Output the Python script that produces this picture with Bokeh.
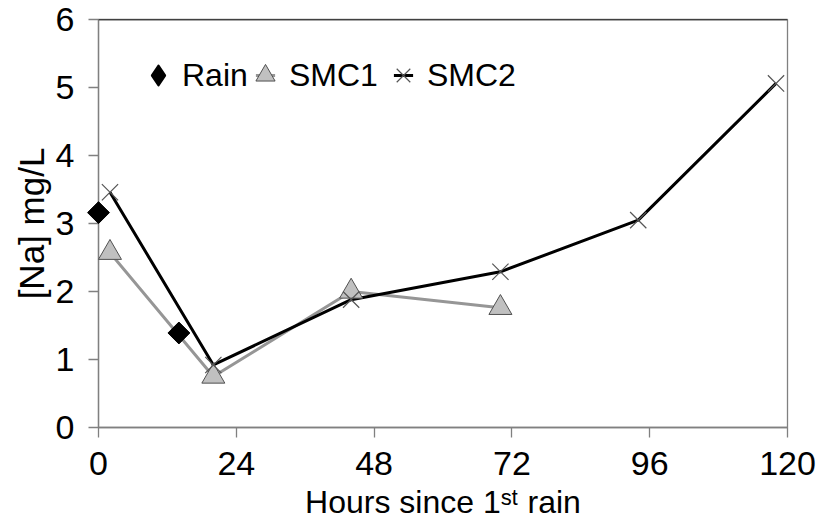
from bokeh.plotting import figure
from bokeh.models import Range1d, FixedTicker, Legend, LegendItem, Span
from bokeh.embed import file_html
from bokeh.resources import INLINE
import numpy as np

# ---- data ----
rain_hours = [0, 14]
rain_na = [3.16, 1.39]

smc1_hours = [2, 20, 44, 70]
smc1_na = [2.57, 0.75, 2.0, 1.76]

smc2_hours = [2, 20, 44, 70, 94, 118]
smc2_na = [3.46, 0.92, 1.88, 2.29, 3.05, 5.06]

x_ticks = [0, 24, 48, 72, 96, 120]
y_ticks = [0, 1, 2, 3, 4, 5, 6]

FONT = "Liberation Sans"

p = figure(width=820, height=523, output_backend="svg", toolbar_location=None,
           x_range=Range1d(0, 120), y_range=Range1d(0, 6),
           min_border_left=98, min_border_right=33, min_border_top=19, min_border_bottom=96)
p.background_fill_color = "white"
p.border_fill_color = "white"
p.grid.visible = False
p.outline_line_color = "#808080"
p.outline_line_width = 1.3

# top border in black
p.add_layout(Span(location=6, dimension="width", line_color="black", line_width=1.5))

for ax in (p.xaxis[0], p.yaxis[0]):
    ax.axis_line_color = "#808080"
    ax.axis_line_width = 1.3
    ax.major_tick_line_color = "#808080"
    ax.major_tick_line_width = 1.3
    ax.major_tick_out = 10
    ax.major_tick_in = 0
    ax.minor_tick_line_color = None
    ax.major_label_text_font = FONT
    ax.major_label_text_font_size = "34px"
    ax.major_label_text_color = "black"
    ax.axis_label_text_font = FONT
    ax.axis_label_text_font_size = "32px"
    ax.axis_label_text_font_style = "normal"
    ax.axis_label_text_color = "black"

p.xaxis[0].ticker = FixedTicker(ticks=x_ticks)
p.yaxis[0].ticker = FixedTicker(ticks=y_ticks)
p.xaxis[0].axis_label = "Hours since 1ˢᵗ rain"
p.yaxis[0].axis_label = "[Na] mg/L"
p.yaxis[0].axis_label_text_font_size = "35px"
p.xaxis[0].major_label_standoff = 14
p.xaxis[0].axis_label_standoff = 6
p.yaxis[0].major_label_standoff = 14
p.yaxis[0].axis_label_standoff = 2

# SMC1
l1 = p.line(smc1_hours, smc1_na, line_color="#969696", line_width=3)
m1 = p.scatter(smc1_hours, smc1_na, marker="triangle", size=23, level="overlay",
               fill_color="#c0c0c0", line_color="#505050", line_width=1)
# SMC2
l2 = p.line(smc2_hours, smc2_na, line_color="black", line_width=3)
m2 = p.scatter(smc2_hours, smc2_na, marker="x", size=23, level="overlay",
               line_color="#555555", line_width=1.2)
# Rain (plotted as a 45°-rotated square)
m0 = p.scatter(rain_hours, rain_na, marker="square", angle=np.pi / 4, size=15.5,
               level="overlay", fill_color="black", line_color="black")

# legend proxies (same data, not drawn in the plot): short line segments + diamond
m0_leg = p.scatter(rain_hours, rain_na, marker="diamond", visible=False,
                   fill_color="black", line_color="black", line_width=2.5,
                   line_join="round")
d1_leg = p.scatter(smc1_hours, smc1_na, marker="dash", visible=False,
                   line_color="#969696", line_width=3)
d2_leg = p.scatter(smc2_hours, smc2_na, marker="dash", visible=False,
                   line_color="black", line_width=3)

legend_entries = [
    ("Rain", [m0_leg], 36),
    ("SMC1", [d1_leg, m1], 143),
    ("SMC2", [d2_leg, m2], 281),
]
for label, rends, x_off in legend_entries:
    lg = Legend(items=[LegendItem(label=label, renderers=rends)],
                orientation="horizontal", location=(x_off, 328))
    lg.label_text_font = FONT
    lg.label_text_font_size = "32px"
    lg.label_text_color = "black"
    lg.glyph_width = 48
    lg.glyph_height = 48
    lg.label_standoff = 0
    lg.spacing = 0
    lg.padding = 0
    lg.margin = 0
    lg.border_line_color = None
    lg.background_fill_alpha = 0
    p.add_layout(lg)

open("out.html", "w").write(file_html(p, INLINE))
